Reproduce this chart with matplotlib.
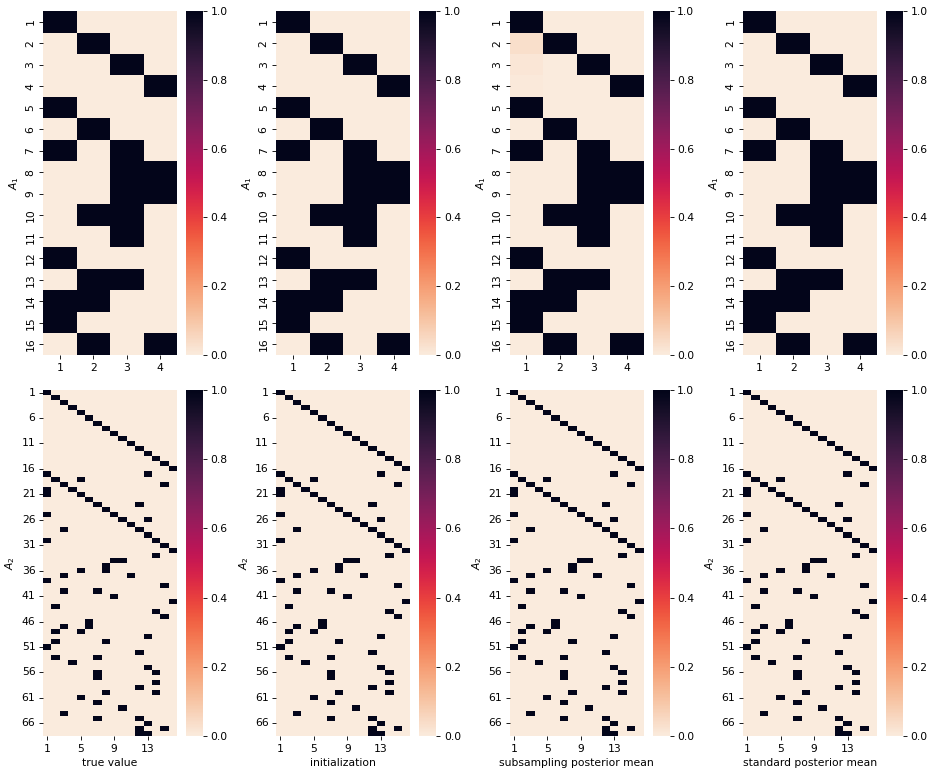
import matplotlib
matplotlib.use("Agg")
import matplotlib.pyplot as plt
import seaborn as sns
import numpy as np

# A1: 16 rows x 4 features, active columns per row (1-based)
A1_active = [[1], [2], [3], [4], [1], [2], [1, 3], [3, 4], [3, 4], [2, 3],
             [3], [1], [2, 3], [1, 2], [1], [2, 4]]

# A2: 68 rows x 16 columns, active columns per row (1-based)
A2_active = [[1], [2], [3], [4], [5], [6], [7], [8], [9], [10], [11], [12],
             [13], [14], [15], [16],
             [1, 13], [2, 5], [3, 15], [1, 4], [1, 5], [6], [7, 12], [8],
             [1, 9], [10, 13], [11], [3, 12], [13], [1, 14], [15], [16],
             [14], [9, 10], [8], [5, 8], [3, 11], [1], [15], [3, 7], [9],
             [16], [2], [14], [15], [6], [3, 6], [2, 5], [13], [2, 8], [1],
             [12], [2, 7], [4], [13], [7, 14], [7], [14], [12], [8, 14],
             [5], [7], [10], [3], [7, 12], [13], [12, 15], [12, 13]]

# faint non-zero entries in the subsampling posterior mean of A1 (row, col, value)
A1_sub_faint = [(2, 1, 0.035), (3, 1, 0.015), (4, 1, 0.006)]

titles = ["true value", "initialization", "subsampling posterior mean",
          "standard posterior mean"]


def to_matrix(active, ncol):
    m = np.zeros((len(active), ncol))
    for i, cols in enumerate(active):
        for c in cols:
            m[i, c - 1] = 1.0
    return m


A1 = to_matrix(A1_active, 4)
A2 = to_matrix(A2_active, 16)
A1_sub = A1.copy()
for r, c, v in A1_sub_faint:
    A1_sub[r - 1, c - 1] = v

A1_list = [A1, A1, A1_sub, A1]
A2_list = [A2, A2, A2, A2]

W, H = 933, 776
DPI = 77.75
fig = plt.figure(figsize=(W / DPI, H / DPI), dpi=DPI)


def px_axes(x0, y0, x1, y1):
    return fig.add_axes([x0 / W, 1 - y1 / H, (x1 - x0) / W, (y1 - y0) / H])


for j in range(4):
    left = 43 + 233.3 * j

    ax = px_axes(left, 11, left + 134, 355)
    cax = px_axes(left + 143, 11, left + 160, 355)
    sns.heatmap(A1_list[j], ax=ax, cbar_ax=cax, cmap="rocket_r", vmin=0, vmax=1,
                xticklabels=False, yticklabels=False)
    ax.set_xticks(np.arange(4) + 0.5)
    ax.set_xticklabels([str(i) for i in range(1, 5)])
    ax.set_yticks(np.arange(16) + 0.5)
    ax.set_yticklabels([str(i) for i in range(1, 17)], rotation=90, va="center")
    ax.set_ylabel("$A_1$")

    ax = px_axes(left, 390, left + 134, 736)
    cax = px_axes(left + 143, 390, left + 160, 736)
    sns.heatmap(A2_list[j], ax=ax, cbar_ax=cax, cmap="rocket_r", vmin=0, vmax=1,
                xticklabels=False, yticklabels=False)
    ax.set_xticks(np.arange(0, 16, 4) + 0.5)
    ax.set_xticklabels([str(i) for i in range(1, 17, 4)])
    ax.set_yticks(np.arange(0, 68, 5) + 0.5)
    ax.set_yticklabels([str(i) for i in range(1, 69, 5)], rotation=0, va="center")
    ax.set_ylabel("$A_2$")
    ax.set_xlabel(titles[j])

plt.savefig("out.png", dpi=DPI)
